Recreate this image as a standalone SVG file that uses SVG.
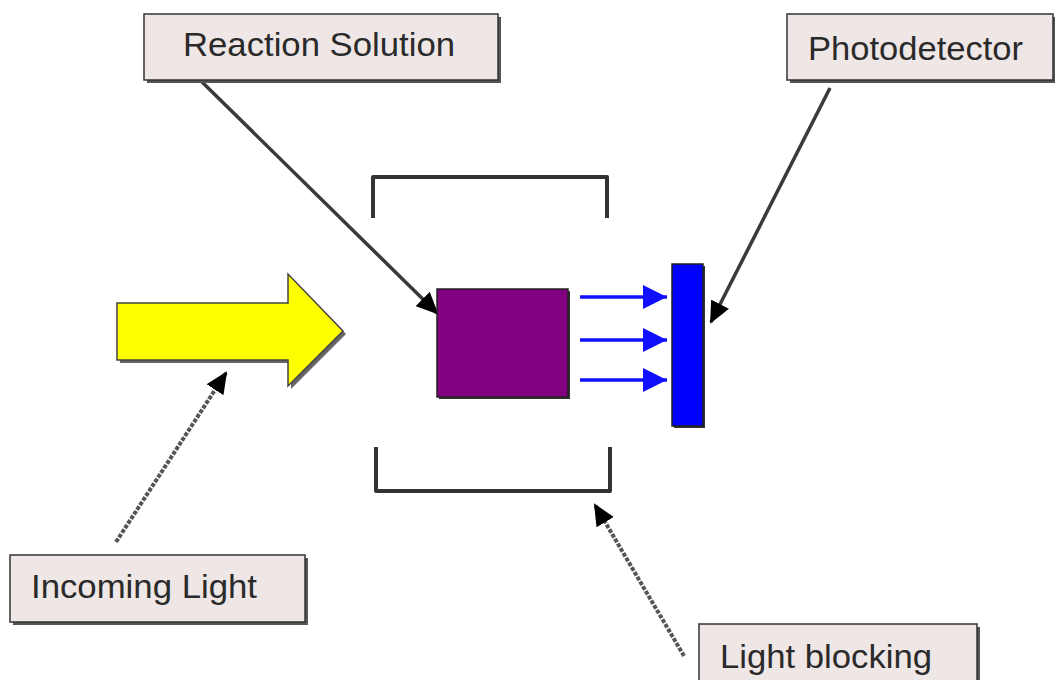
<svg xmlns="http://www.w3.org/2000/svg" width="1055" height="680" viewBox="0 0 1055 680">
<defs>
<style>
.lbl{fill:#efe6e6;stroke:#333;stroke-width:1.5}
.shd{fill:#555}
.txt{font-family:"Liberation Sans",Arial,sans-serif;font-size:34px;fill:#2a2a2a}
.pointer{stroke:#3a3a3a;stroke-width:3.5;fill:none}
.grey{stroke:#555;stroke-width:4;fill:none;stroke-dasharray:4 1.5}
.ray{stroke:#1010ff;stroke-width:3.5;fill:none}
.bracket{stroke:#333;stroke-width:4;fill:none;stroke-linejoin:round}
</style>
<marker id="blk" markerUnits="userSpaceOnUse" markerWidth="22" markerHeight="20" refX="20" refY="10" orient="auto">
<path d="M0,0 L22,10 L0,20 z" fill="#000"/>
</marker>
<marker id="blu" markerUnits="userSpaceOnUse" markerWidth="24" markerHeight="24" refX="24" refY="12" orient="auto">
<path d="M0,0 L24,12 L0,24 z" fill="#1010ff"/>
</marker>
</defs>
<rect width="1055" height="680" fill="#fff"/>

<g id="connectors">
<line class="pointer" x1="200" y1="80" x2="437" y2="313" marker-end="url(#blk)"/>
<line class="pointer" x1="830" y1="88" x2="711" y2="322" marker-end="url(#blk)"/>
<line class="grey" x1="116" y1="542" x2="226" y2="373" marker-end="url(#blk)"/>
<line class="grey" x1="684" y1="656" x2="595" y2="505" marker-end="url(#blk)"/>
<line class="ray" x1="580" y1="297" x2="667" y2="297" marker-end="url(#blu)"/>
<line class="ray" x1="580" y1="340" x2="667" y2="340" marker-end="url(#blu)"/>
<line class="ray" x1="580" y1="380" x2="667" y2="380" marker-end="url(#blu)"/>
</g>

<g id="incoming-arrow">
<path d="M120,306 L291,306 L291,277 L346,334 L291,389 L291,363 L120,363 z" fill="#666"/>
<path d="M117,303 L288,303 L288,274 L343,331 L288,386 L288,360 L117,360 z" fill="#ffff00" stroke="#444" stroke-width="1.5"/>
</g>

<g id="reaction-cell">
<rect x="439" y="291" width="131" height="108" fill="#333"/>
<rect x="437" y="289" width="131" height="108" fill="#800080" stroke="#222" stroke-width="1.5"/>
</g>

<g id="photodetector">
<rect x="674" y="266" width="31" height="162" fill="#333"/>
<rect x="672" y="264" width="31" height="162" fill="#0000ff" stroke="#222" stroke-width="1.5"/>
</g>

<g id="light-blocking-enclosure">
<path class="bracket" d="M373,218 L373,177 L607,177 L607,218"/>
<path class="bracket" d="M376,447 L376,491 L610,491 L610,447"/>
</g>

<g id="label-reaction-solution">
<rect class="shd" x="147" y="17" width="354" height="66"/>
<rect class="lbl" x="144" y="14" width="354" height="66"/>
<text class="txt" x="183" y="56" textLength="272" lengthAdjust="spacingAndGlyphs">Reaction Solution</text>
</g>

<g id="label-photodetector">
<rect class="shd" x="790" y="17" width="268" height="66"/>
<rect class="lbl" x="787" y="14" width="266" height="66"/>
<text class="txt" x="808" y="60" textLength="215" lengthAdjust="spacingAndGlyphs">Photodetector</text>
</g>

<g id="label-incoming-light">
<rect class="shd" x="13" y="558" width="295" height="67"/>
<rect class="lbl" x="10" y="555" width="295" height="67"/>
<text class="txt" x="31" y="598" textLength="226" lengthAdjust="spacingAndGlyphs">Incoming Light</text>
</g>

<g id="label-light-blocking">
<rect class="shd" x="702" y="627" width="278" height="60"/>
<rect class="lbl" x="699" y="624" width="278" height="60"/>
<text class="txt" x="720" y="668" textLength="212" lengthAdjust="spacingAndGlyphs">Light blocking</text>
</g>
</svg>
